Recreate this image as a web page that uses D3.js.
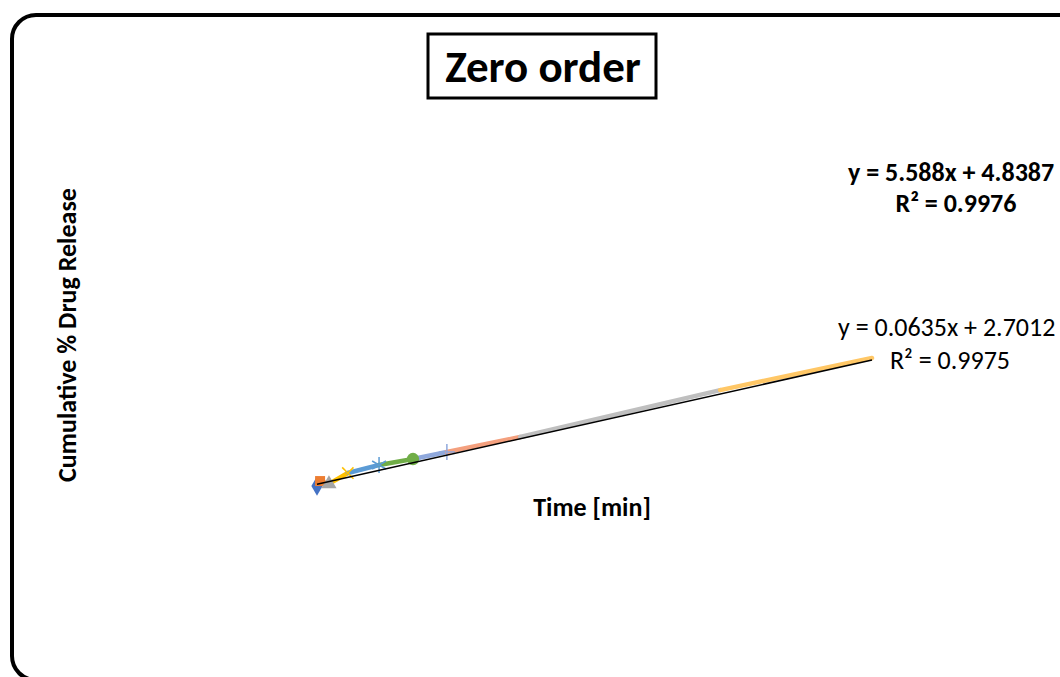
<!DOCTYPE html>
<html><head><meta charset="utf-8">
<script src="https://cdn.jsdelivr.net/npm/d3@7"></script>
<style>body{margin:0;background:#fff;} svg{display:block;}</style>
</head><body>
<svg id="c" width="1060" height="677"></svg>
<script>
// Data (time in min, cumulative % drug release)
const times = [0, 8, 31, 80, 161, 249, 337, 527, 1046, 1440];
const release = [1.5, 5.1, 3.0, 11.0, 16.9, 21.3, 26.5, 37.5, 72.0, 95.6];
const segmentColors = ["#ED7D31", "#ED7D31", "#FFC000", "#5B9BD5", "#70AD47", "#8FA8DC", "#F4A07E", "#BFBFBF", "#FFC766"];
const markerTypes = ["diamond", "square", "triangle", "x", "asterisk", "circle", "plus"];
const markerColors = ["#4472C4", "#ED7D31", "#A5A5A5", "#FFC000", "#5B9BD5", "#70AD47", "#8FA8DC"];
const trend = {slope: 0.0635, intercept: 2.7012, r2: 0.9975};
const trend2 = {slope: 5.588, intercept: 4.8387, r2: 0.9976};
const title = "Zero order";
const xTitle = "Time [min]";
const yTitle = "Cumulative % Drug Release";

const svg = d3.select("#c");
const x = d3.scaleLinear().domain([0, 1440]).range([317, 872]);
const y = d3.scaleLinear().domain([0, 100]).range([488, 352]);
const font = "Carlito, Calibri, Lato, sans-serif";

// outer rounded border
svg.append("rect").attr("x", 12).attr("y", 15).attr("width", 1080).attr("height", 665)
  .attr("rx", 24).attr("fill", "none").attr("stroke", "#000").attr("stroke-width", 4);

// title box
svg.append("rect").attr("x", 428).attr("y", 34).attr("width", 228).attr("height", 64)
  .attr("fill", "#fff").attr("stroke", "#000").attr("stroke-width", 3);
svg.append("text").attr("x", 543).attr("y", 82).attr("text-anchor", "middle")
  .attr("font-family", font).attr("font-weight", "bold").attr("font-size", 45).text(title);

// segments
const pts = times.map((t, i) => [t, release[i]]);
for (let i = 0; i < pts.length - 1; i++) {
  svg.append("line")
    .attr("x1", x(pts[i][0])).attr("y1", y(pts[i][1]))
    .attr("x2", x(pts[i+1][0])).attr("y2", y(pts[i+1][1]))
    .attr("stroke", segmentColors[i]).attr("stroke-width", 4.5).attr("stroke-linecap", "round");
}

// markers
const sym = {
  diamond: d3.symbolDiamond, square: d3.symbolSquare, triangle: d3.symbolTriangle,
  circle: d3.symbolCircle
};
markerTypes.forEach((m, i) => {
  const cx = x(times[i]), cy = y(release[i]);
  const g = svg.append("g").attr("transform", `translate(${cx},${cy})`);
  if (m === "x" || m === "asterisk" || m === "plus") {
    const r = 8;
    const angles = m === "x" ? [45, 135] : m === "plus" ? [0, 90] : [30, 90, 150];
    angles.forEach(a => {
      const rad = a * Math.PI / 180;
      g.append("line").attr("x1", -r * Math.cos(rad)).attr("y1", -r * Math.sin(rad))
        .attr("x2", r * Math.cos(rad)).attr("y2", r * Math.sin(rad))
        .attr("stroke", markerColors[i]).attr("stroke-width", 1.5);
    });
  } else {
    const size = m === "circle" ? 120 : m === "diamond" ? 110 : 100;
    g.append("path").attr("d", d3.symbol().type(sym[m]).size(size)())
      .attr("fill", markerColors[i]);
  }
});

// trendline
svg.append("line")
  .attr("x1", x(0)).attr("y1", y(trend.intercept))
  .attr("x2", x(1440)).attr("y2", y(trend.slope * 1440 + trend.intercept))
  .attr("stroke", "#000").attr("stroke-width", 1.5);

// axis titles
svg.append("text").attr("x", 592).attr("y", 516).attr("text-anchor", "middle")
  .attr("font-family", font).attr("font-weight", "bold").attr("font-size", 26).text(xTitle);
svg.append("text").attr("transform", "translate(76,335) rotate(-90)").attr("text-anchor", "middle")
  .attr("font-family", font).attr("font-weight", "bold").attr("font-size", 26).text(yTitle);

// trendline labels
svg.append("text").attr("x", 848).attr("y", 181).attr("font-family", font).attr("font-weight", "bold")
  .attr("font-size", 26).text(`y = ${trend2.slope}x + ${trend2.intercept}`);
svg.append("text").attr("x", 956).attr("y", 212).attr("text-anchor", "middle").attr("font-family", font).attr("font-weight", "bold")
  .attr("font-size", 26).text(`R² = ${trend2.r2}`);
svg.append("text").attr("x", 838).attr("y", 336).attr("font-family", font)
  .attr("font-size", 26).text(`y = ${trend.slope}x + ${trend.intercept}`);
svg.append("text").attr("x", 950).attr("y", 369).attr("text-anchor", "middle").attr("font-family", font)
  .attr("font-size", 26).text(`R² = ${trend.r2}`);
</script>
</body></html>
